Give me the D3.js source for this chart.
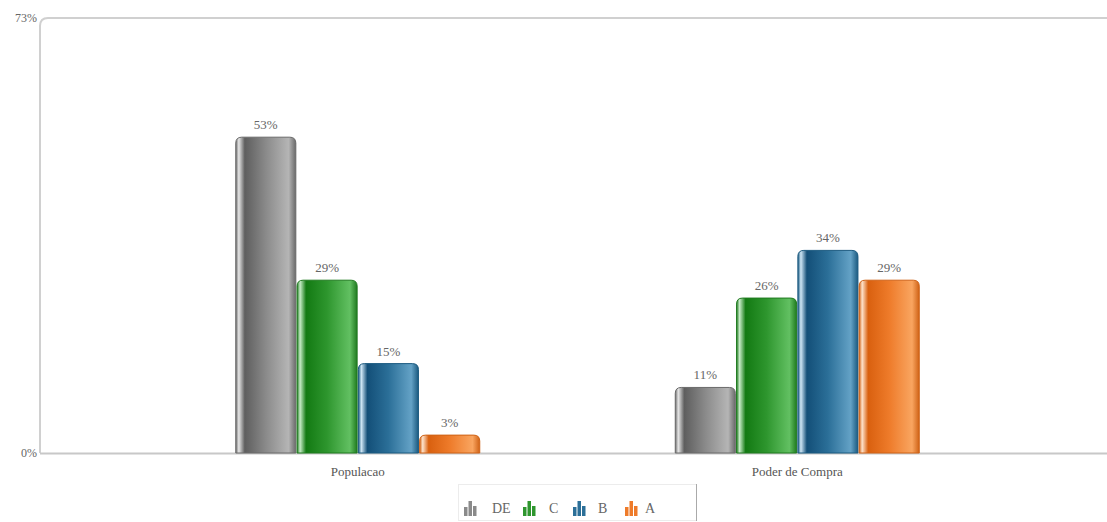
<!DOCTYPE html>
<html><head><meta charset="utf-8">
<script src="https://cdn.jsdelivr.net/npm/d3@7"></script>
<style>body{margin:0;background:#fff;}svg{display:block;}</style>
</head><body>
<script>
const categories = ["Populacao", "Poder de Compra"];
const seriesNames = ["DE", "C", "B", "A"];
const valuesDE = [53, 11];
const valuesC = [29, 26];
const valuesB = [15, 34];
const valuesA = [3, 29];
const yTickLabels = ["0%", "73%"];
const yMax = 73;

const series = [
  {name: "DE", values: valuesDE, c: ["#e6e6e6", "#5e5e5e", "#8a8a8a", "#b5b5b5", "#6a6a6a"]},
  {name: "C", values: valuesC, c: ["#c8ecc8", "#137a13", "#2e962e", "#62c062", "#1f7a1f"]},
  {name: "B", values: valuesB, c: ["#cfe6f5", "#134f78", "#2b6f98", "#64a2c6", "#1b5a80"]},
  {name: "A", values: valuesA, c: ["#fde3cc", "#d9600f", "#ee7b2a", "#f9a560", "#cf6216"]}
];

const W = 1107, H = 522;
const mLeft = 40, mTop = 18, mBottom = 453;
const svg = d3.select("body").append("svg").attr("width", W).attr("height", H);
const defs = svg.append("defs");

series.forEach((s, i) => {
  const g = defs.append("linearGradient").attr("id", "g" + i).attr("x1", "0").attr("x2", "1").attr("y1", "0").attr("y2", "0");
  [[0, s.c[4]], [0.05, s.c[0]], [0.15, s.c[1]], [0.5, s.c[2]], [0.88, s.c[3]], [1, s.c[4]]].forEach(([o, c]) =>
    g.append("stop").attr("offset", o).attr("stop-color", c));
});

const y = d3.scaleLinear().domain([0, yMax]).range([mBottom, mTop]);
const x0 = d3.scaleBand().domain(categories).range([138, 1017]);
const x1 = d3.scaleBand().domain(seriesNames).range([-122, 122]).paddingInner(0.02);

// frame
const r = 8;
svg.append("path")
  .attr("d", `M${mLeft},${mBottom} L${mLeft},${mTop + r} Q${mLeft},${mTop} ${mLeft + r},${mTop} L${W},${mTop}`)
  .attr("fill", "none").attr("stroke", "#d0d0d0").attr("stroke-width", 2);
svg.append("line").attr("x1", mLeft).attr("x2", W).attr("y1", mBottom + 0.5).attr("y2", mBottom + 0.5)
  .attr("stroke", "#c8c8c8").attr("stroke-width", 2);

// y tick labels
const font = "'Liberation Serif', 'DejaVu Serif', serif";
svg.selectAll(".yt").data([0, yMax]).enter().append("text")
  .attr("x", mLeft - 3).attr("y", d => y(d) + 4)
  .attr("text-anchor", "end").attr("font-family", font).attr("font-size", 12).attr("fill", "#666")
  .text((d, i) => yTickLabels[i]);

// bars
function barPath(x, yt, w, h) {
  const rr = Math.min(6, h / 2);
  return `M${x},${yt + h} L${x},${yt + rr} Q${x},${yt} ${x + rr},${yt} L${x + w - rr},${yt} Q${x + w},${yt} ${x + w},${yt + rr} L${x + w},${yt + h} Z`;
}
series.forEach((s, si) => {
  const g = svg.append("g");
  categories.forEach((cat, ci) => {
    const v = s.values[ci];
    const bx = x0(cat) + x0.bandwidth() / 2 + x1(s.name);
    const bw = x1.bandwidth();
    g.append("path").attr("d", barPath(bx, y(v), bw, y(0) - y(v)))
      .attr("fill", `url(#g${si})`).attr("stroke", s.c[4]).attr("stroke-width", 1);
    svg.append("text").attr("x", bx + bw / 2).attr("y", y(v) - 8)
      .attr("text-anchor", "middle").attr("font-family", font).attr("font-size", 13).attr("fill", "#666")
      .text(v + "%");
  });
});

// category labels
svg.selectAll(".cl").data(categories).enter().append("text")
  .attr("x", d => x0(d) + x0.bandwidth() / 2).attr("y", 476)
  .attr("text-anchor", "middle").attr("font-family", font).attr("font-size", 13).attr("fill", "#555")
  .text(d => d);

// legend
const lg = svg.append("g");
lg.append("rect").attr("x", 458.5).attr("y", 484.5).attr("width", 238).attr("height", 36)
  .attr("fill", "#fff").attr("stroke", "#ececec");
lg.append("line").attr("x1", 696.5).attr("x2", 696.5).attr("y1", 484).attr("y2", 521).attr("stroke", "#aaa");
const legendX = [464, 523, 573, 625];
const textX = [492, 549, 598, 645];
series.forEach((s, i) => {
  const ix = legendX[i], base = 516;
  [[0, 9], [4.5, 15], [9, 10]].forEach(([dx, h]) => {
    lg.append("rect").attr("x", ix + dx).attr("y", base - h).attr("width", 3.5).attr("height", h)
      .attr("fill", s.c[2]);
  });
  lg.append("text").attr("x", textX[i]).attr("y", 513).attr("font-family", font).attr("font-size", 14)
    .attr("fill", "#666").text(s.name);
});
</script>
</body></html>
